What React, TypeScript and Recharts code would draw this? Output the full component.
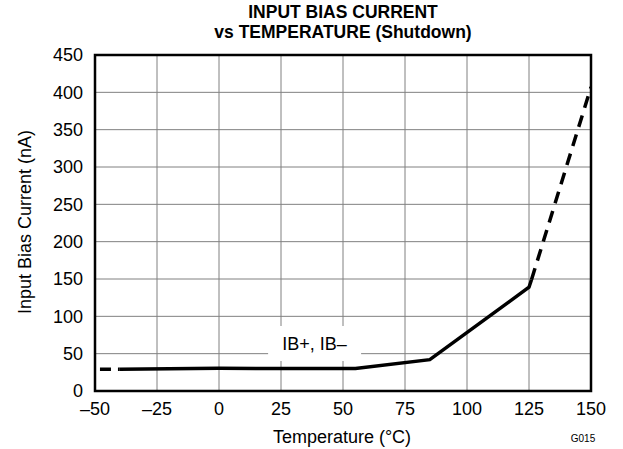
import React from 'react';
import {
  LineChart,
  Line,
  XAxis,
  YAxis,
  CartesianGrid,
  ReferenceArea,
} from 'recharts';

// 温度軸・電流軸の目盛り
const tempTicks = [-50, -25, 0, 25, 50, 75, 100, 125, 150];
const currentTicks = [0, 50, 100, 150, 200, 250, 300, 350, 400, 450];

// 低温側の破線（外挿）
const coldDashed = [
  { x: -48, y: 29 },
  { x: -40, y: 29 },
];

// 実測の実線
const measured = [
  { x: -40, y: 29 },
  { x: 0, y: 30.5 },
  { x: 25, y: 30 },
  { x: 55, y: 30 },
  { x: 85, y: 42 },
  { x: 125, y: 139 },
  { x: 126, y: 149 },
];

// 高温側の破線（外挿）
const hotDashed = [
  { x: 126, y: 149 },
  { x: 150, y: 407 },
];

const FONT = 'Arial, "Liberation Sans", Helvetica, sans-serif';
const W = 623;
const H = 449;

const fmt = (v: number) => String(v).replace('-', '–');

export default function App() {
  const tick = { fontSize: 18, fill: '#000', fontFamily: FONT };

  return (
    <div style={{ position: 'absolute', left: 0, top: 0, width: W, height: H, background: '#fff' }}>
      <LineChart
        width={W}
        height={H}
        margin={{ top: 55, right: 32, bottom: 28, left: 25 }}
        style={{ fontFamily: FONT }}
      >
        <CartesianGrid stroke="#808080" strokeWidth={1} />
        <XAxis
          dataKey="x"
          type="number"
          domain={[-50, 150]}
          ticks={tempTicks}
          tickFormatter={fmt}
          allowDataOverflow
          axisLine={false}
          tickLine={false}
          tickSize={0}
          tickMargin={11}
          height={30}
          tick={tick}
          interval={0}
        />
        <YAxis
          dataKey="y"
          type="number"
          domain={[0, 450]}
          ticks={currentTicks}
          axisLine={false}
          tickLine={false}
          tickSize={0}
          tickMargin={12}
          width={70}
          tick={tick}
          interval={0}
        />
        <ReferenceArea
          x1={19.8}
          x2={57.3}
          y1={40.2}
          y2={87.1}
          fill="#fff"
          fillOpacity={1}
          stroke="none"
          label={{ value: 'IB+, IB–', position: 'center', fill: '#000', fontSize: 18, fontFamily: FONT }}
        />
        <Line
          data={coldDashed}
          dataKey="y"
          type="linear"
          stroke="#000"
          strokeWidth={3.5}
          strokeDasharray="11 7"
          dot={false}
          activeDot={false}
          isAnimationActive={false}
        />
        <Line
          data={measured}
          dataKey="y"
          type="linear"
          stroke="#000"
          strokeWidth={3.5}
          dot={false}
          activeDot={false}
          isAnimationActive={false}
        />
        <Line
          data={hotDashed}
          dataKey="y"
          type="linear"
          stroke="#000"
          strokeWidth={3.5}
          strokeDasharray="12 8"
          dot={false}
          activeDot={false}
          isAnimationActive={false}
        />
        <ReferenceArea
          x1={-50}
          x2={150}
          y1={0}
          y2={450}
          fill="none"
          stroke="#000"
          strokeWidth={2.5}
        />
      </LineChart>
      <svg
        width={W}
        height={H}
        style={{ position: 'absolute', left: 0, top: 0, pointerEvents: 'none', fontFamily: FONT }}
      >
        <text x={343} y={18} textAnchor="middle" fontSize={17.5} fontWeight="bold" fill="#000">
          INPUT BIAS CURRENT
        </text>
        <text x={343} y={38} textAnchor="middle" fontSize={17.5} fontWeight="bold" fill="#000">
          vs TEMPERATURE (Shutdown)
        </text>
        <text
          x={0}
          y={0}
          transform="translate(31,222) rotate(-90)"
          textAnchor="middle"
          fontSize={18}
          fill="#000"
        >
          Input Bias Current (nA)
        </text>
        <text x={342} y={443} textAnchor="middle" fontSize={18} fill="#000">
          Temperature (°C)
        </text>
        <text x={583} y={442} textAnchor="middle" fontSize={10} fill="#000">
          G015
        </text>
      </svg>
    </div>
  );
}
